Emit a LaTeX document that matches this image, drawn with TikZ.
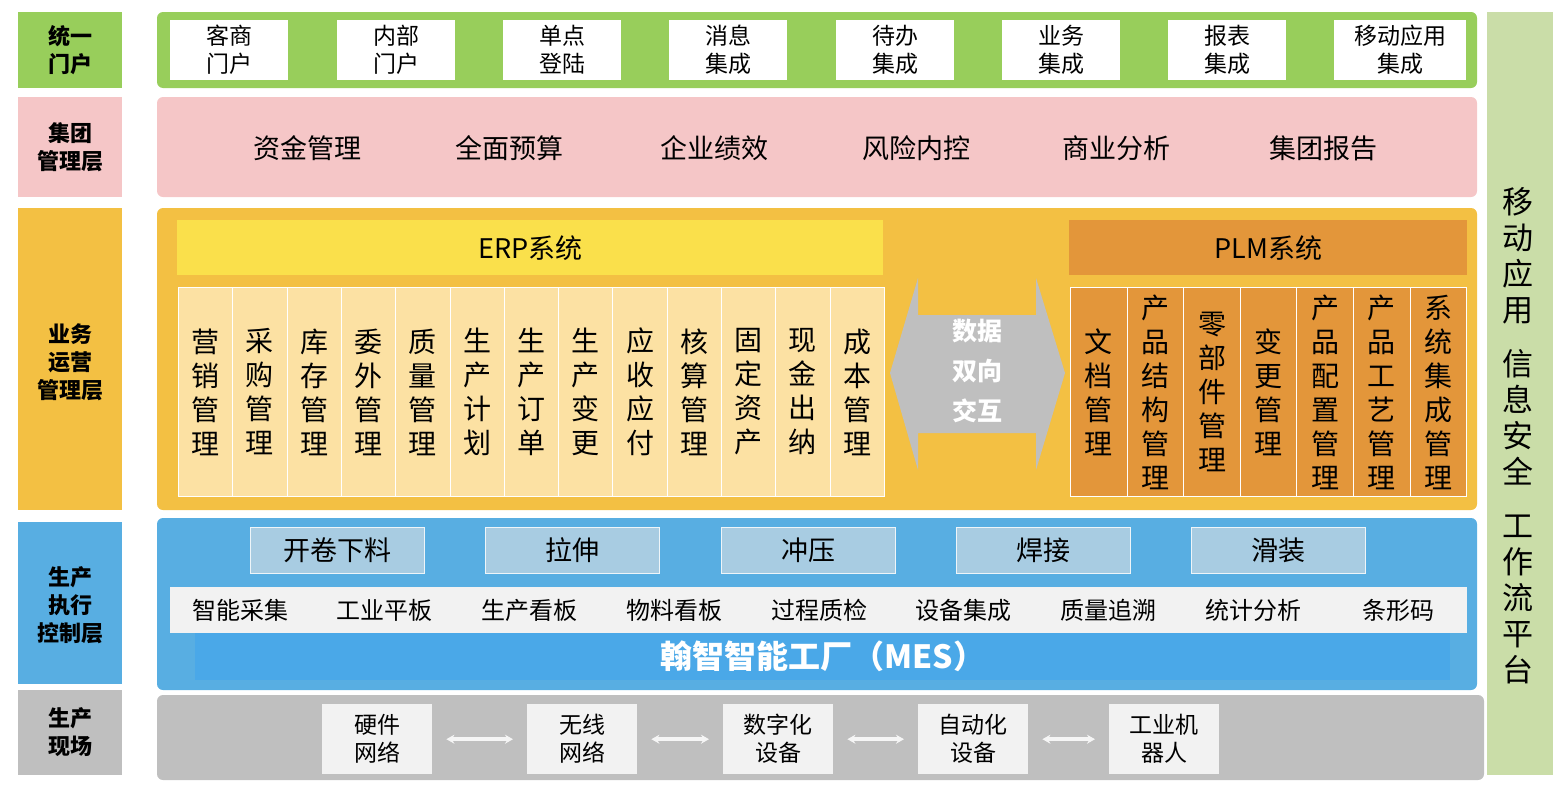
\documentclass[tikz,border=0pt]{standalone}
\usepackage{fontspec}
\setmainfont{Noto Sans CJK SC}
\XeTeXlinebreaklocale "zh"
\XeTeXlinebreakskip=0pt plus 1pt
\usetikzlibrary{arrows.meta}
\definecolor{cgreen}{HTML}{98CE5B}
\definecolor{cpink}{HTML}{F5C6C7}
\definecolor{corange}{HTML}{F3C043}
\definecolor{cblue}{HTML}{58AEE2}
\definecolor{cgray}{HTML}{BFBFBF}
\definecolor{cside}{HTML}{CADDA8}
\definecolor{cerp}{HTML}{FAE04B}
\definecolor{cerpcol}{HTML}{FCE1A3}
\definecolor{cplm}{HTML}{E3963A}
\definecolor{cpale}{HTML}{A8CCE2}
\definecolor{cwhite}{HTML}{F2F2F2}
\definecolor{cmes}{HTML}{4AA8E8}
\tikzset{
  layer/.style={fill=#1, draw=none, rounded corners=6pt},
  tag/.style={font=\fontsize{22}{28}\selectfont\bfseries, align=center, inner sep=0pt},
  box/.style={fill=white, font=\fontsize{23}{28}\selectfont, align=center, inner sep=0pt},
  txt/.style={font=\fontsize{27}{29}\selectfont, inner sep=0pt},
  col/.style={draw=white, line width=1pt, font=\fontsize{28}{34}\selectfont, align=center, inner sep=0pt, text width=29pt},
}
\begin{document}
\begin{tikzpicture}[x=1pt, y=-1pt]
  \useasboundingbox (0,0) rectangle (1560,790);
  % left labels
  \fill[cgreen] (18,12) rectangle (122,88);
  \node[tag] (l1) at (70,50) {统一\\门户};
  \fill[cpink] (18,97) rectangle (122,197);
  \node[tag] (l2) at (70,147) {集团\\管理层};
  \fill[corange] (18,208) rectangle (122,510);
  \node[tag] (l3) at (70,362) {业务\\运营\\管理层};
  \fill[cblue] (18,522) rectangle (122,684);
  \node[tag] (l4) at (70,605) {生产\\执行\\控制层};
  \fill[cgray] (18,690) rectangle (122,775);
  \node[tag] (l5) at (70,732) {生产\\现场};
  % right column
  \fill[cside] (1487,12) rectangle (1553,775);
  \node[font=\fontsize{31}{36}\selectfont, align=center, text width=34pt, inner sep=0pt] (side) at (1518,436)
    {移\\动\\应\\用\\[18pt]信\\息\\安\\全\\[18pt]工\\作\\流\\平\\台};
  % portal
  \fill[layer=cgreen] (157,12) rectangle (1477,88);
  \foreach \x/\w/\t [count=\i] in {170/118/客商\\门户, 337/118/内部\\门户, 503/118/单点\\登陆, 669/118/消息\\集成,
      836/118/待办\\集成, 1002/118/业务\\集成, 1168/118/报表\\集成, 1334/132/移动应用\\集成}
    \node[box, minimum width=\w, minimum height=60, anchor=north west] (p\i) at (\x,20) {\t};
  % group
  \fill[layer=cpink] (157,97) rectangle (1477,197);
  \foreach \x/\t [count=\i] in {307/资金管理, 509/全面预算, 714/企业绩效, 916/风险内控, 1116/商业分析, 1323/集团报告}
    \node[txt] (g\i) at (\x,148) {\t};
  % business
  \fill[layer=corange] (157,208) rectangle (1477,510);
  \node[fill=cerp, minimum width=706, minimum height=55, anchor=north west, txt] (erp) at (177,220) {ERP系统};
  \node[fill=cplm, minimum width=398, minimum height=55, anchor=north west, txt] (plm) at (1069,220) {PLM系统};
  \foreach \t [count=\i] in {营销管理, 采购管理, 库存管理, 委外管理, 质量管理, 生产计划, 生产订单,
      生产变更, 应收应付, 核算管理, 固定资产, 现金出纳, 成本管理}
    \node[col, fill=cerpcol, minimum width=54.3, minimum height=209, anchor=north west] (e\i)
      at ({178+(\i-1)*54.3},287) {\t};
  \foreach \t [count=\i] in {文档管理, 产品结构管理, 零部件管理, 变更管理, 产品配置管理, 产品工艺管理, 系统集成管理}
    \node[col, fill=cplm, minimum width=56.6, minimum height=209, anchor=north west] (m\i)
      at ({1070+(\i-1)*56.6},287) {\t};
  \fill[cgray] (890,373) -- (918,278) -- (918,315) -- (1036,315) -- (1036,278) -- (1065,373)
    -- (1036,470) -- (1036,433) -- (918,433) -- (918,470) -- cycle;
  \node[font=\fontsize{25}{40}\selectfont\bfseries, text=white, align=center] (xchg) at (977,371) {数据\\双向\\交互};
  % execution
  \fill[layer=cblue] (157,518) rectangle (1477,690);
  \foreach \x/\t [count=\i] in {250/开卷下料, 485/拉伸, 721/冲压, 956/焊接, 1191/滑装}
    \node[txt, fill=cpale, draw=white!80!cpale, minimum width=174, minimum height=46, anchor=north west] (s\i) at (\x,527) {\t};
  \fill[cwhite] (170,587) rectangle (1467,633);
  \foreach \x/\t [count=\i] in {240/智能采集, 384/工业平板, 529/生产看板, 674/物料看板, 819/过程质检,
      963/设备集成, 1108/质量追溯, 1253/统计分析, 1398/条形码}
    \node[font=\fontsize{24}{26}\selectfont, inner sep=0pt] (f\i) at (\x,610) {\t};
  \node[fill=cmes, minimum width=1255, minimum height=47, anchor=north west, text=white,
    font=\fontsize{32}{34}\selectfont\bfseries] (mes) at (195,633) {翰智智能工厂（MES）};
  % field
  \fill[layer=cgray] (157,695) rectangle (1484,780);
  \foreach \x/\t [count=\i] in {322/硬件\\网络, 527/无线\\网络, 723/数字化\\设备, 918/自动化\\设备, 1109/工业机\\器人}
    \node[box, fill=cwhite, minimum width=110, minimum height=70, anchor=north west] (d\i) at (\x,704) {\t};
  \foreach \a/\b in {d1/d2, d2/d3, d3/d4, d4/d5}
    \draw[{Stealth[length=8pt,width=9pt]}-{Stealth[length=8pt,width=9pt]}, draw=white!85!cgray, line width=3.5pt, shorten <=14pt, shorten >=14pt] (\a) -- (\b);
\end{tikzpicture}
\end{document}
